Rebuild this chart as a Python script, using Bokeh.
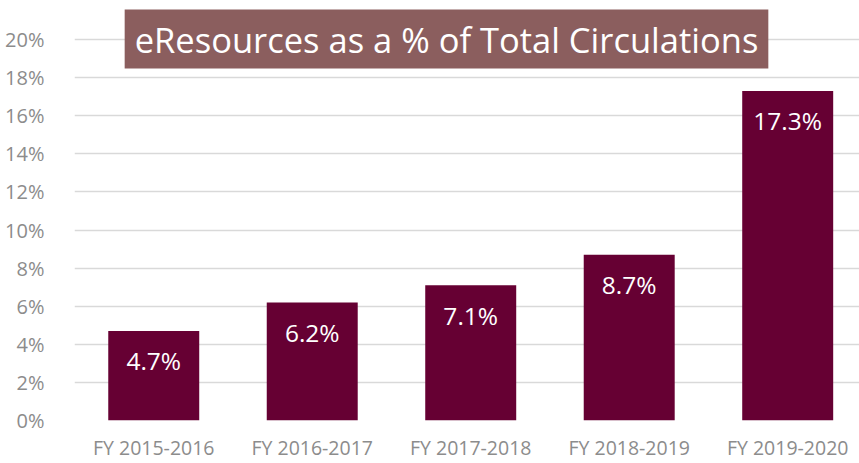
from bokeh.plotting import figure
from bokeh.models import ColumnDataSource, Range1d, Label, NumeralTickFormatter, FixedTicker
from bokeh.embed import file_html
from bokeh.resources import INLINE

categories = ["FY 2015-2016", "FY 2016-2017", "FY 2017-2018", "FY 2018-2019", "FY 2019-2020"]
values = [0.047, 0.062, 0.071, 0.087, 0.173]
labels = ["4.7%", "6.2%", "7.1%", "8.7%", "17.3%"]
y_ticks = [0, 0.02, 0.04, 0.06, 0.08, 0.10, 0.12, 0.14, 0.16, 0.18, 0.20]
title_text = "eResources as a % of Total Circulations"

xs = list(range(len(categories)))
src = ColumnDataSource(dict(x=xs, top=values, lab=labels))

p = figure(width=859, height=463, output_backend="svg", toolbar_location=None,
           x_range=Range1d(-0.5, 4.453), y_range=Range1d(0, 0.2205),
           min_border_left=74, min_border_right=0, min_border_top=0, min_border_bottom=43)
p.outline_line_color = None
p.background_fill_color = "white"
p.border_fill_color = "white"

p.vbar(x="x", top="top", width=0.574, source=src, fill_color="#660033", line_color=None)
p.text(x="x", y="top", text="lab", source=src, text_color="white", text_align="center",
       text_baseline="middle", y_offset=30, text_font_size="24.5px", text_font={"value": "Open Sans"})

p.xaxis.ticker = FixedTicker(ticks=xs)
p.xaxis.major_label_overrides = {i: c for i, c in enumerate(categories)}
p.yaxis.ticker = FixedTicker(ticks=y_ticks)
p.yaxis.formatter = NumeralTickFormatter(format="0%")
for ax in (p.xaxis[0], p.yaxis[0]):
    ax.axis_line_color = None
    ax.major_tick_line_color = None
    ax.minor_tick_line_color = None
    ax.major_label_text_color = "#8c8c8c"
    ax.major_label_text_font = "Open Sans"
p.yaxis.major_label_text_font_size = "20px"
p.xaxis.major_label_text_font_size = "19.5px"
p.yaxis.major_label_standoff = 24
p.xaxis.major_label_standoff = 7
p.xgrid.grid_line_color = None
p.ygrid.grid_line_color = "#d9d9d9"
p.ygrid.grid_line_width = 1.5

title = Label(x=372, y=381.5, x_units="screen", y_units="screen",
              text=title_text, text_align="center", text_baseline="middle",
              text_color="white", text_font="Open Sans", text_font_size="34.5px",
              background_fill_color="#8b5e5e", padding=(10, 6))
p.add_layout(title)

open("out.html", "w").write(file_html(p, INLINE))
